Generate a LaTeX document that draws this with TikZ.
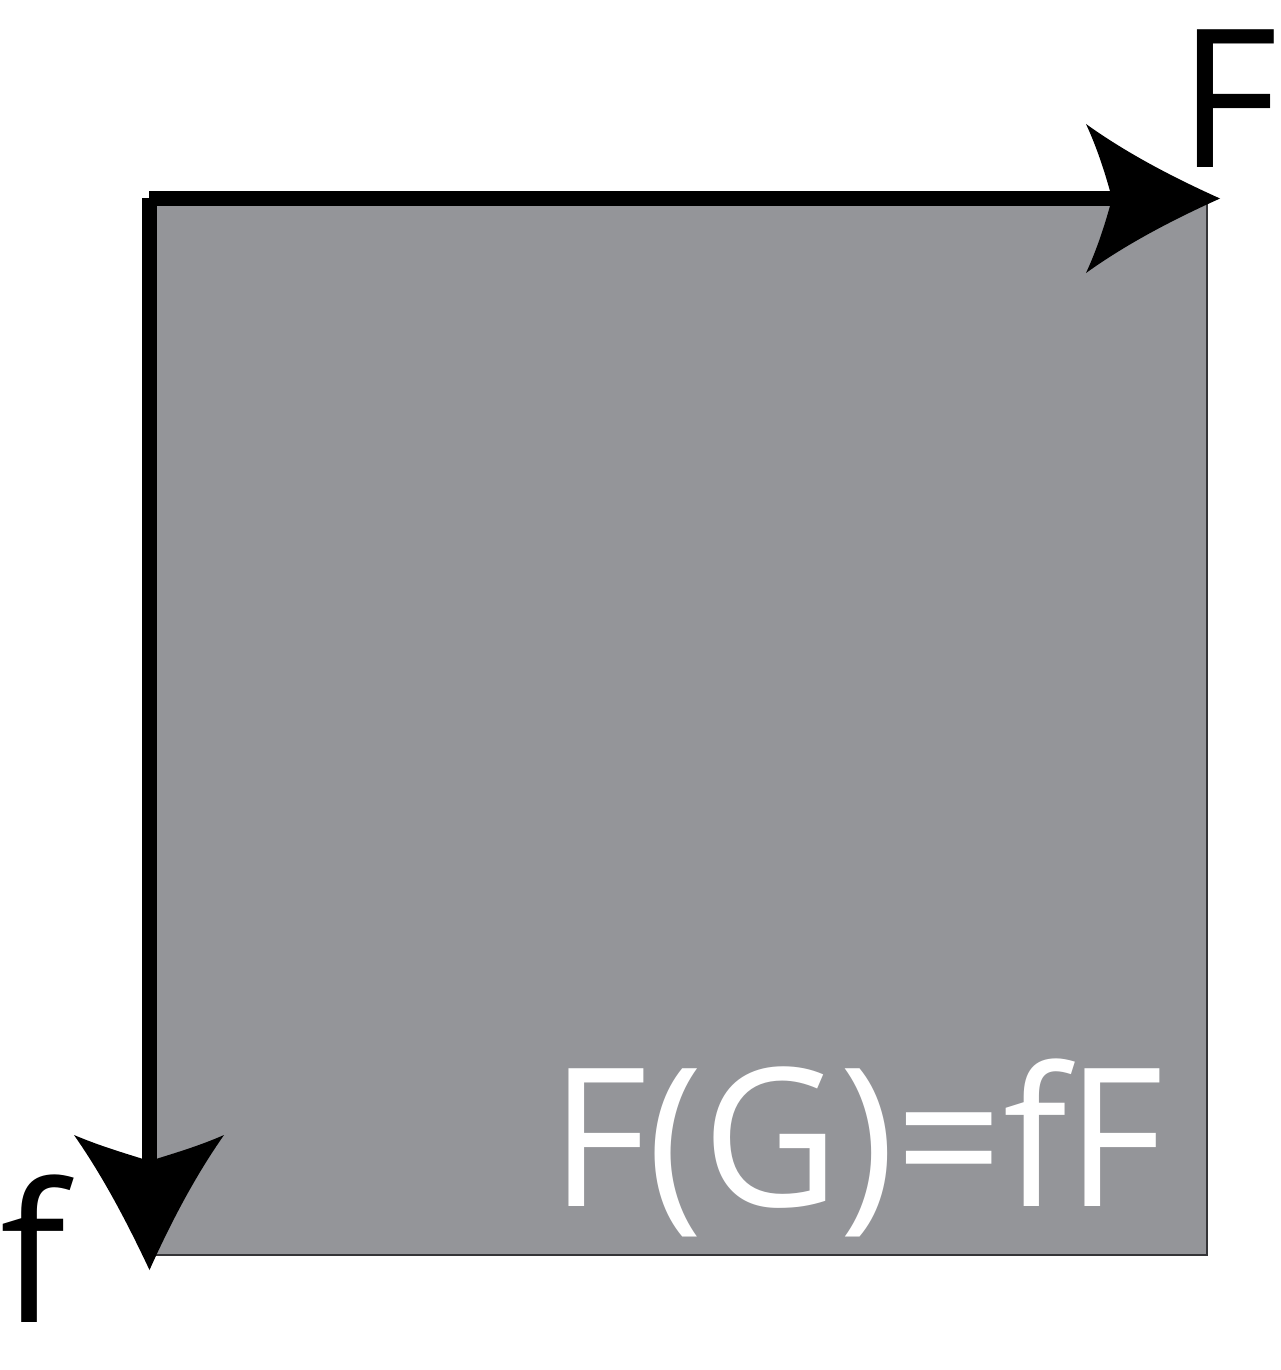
\documentclass[tikz,border=0pt]{standalone}
\usepackage{fontspec}
\setmainfont{Open Sans}
\definecolor{sqgray}{RGB}{148,149,153}
\definecolor{sqedge}{RGB}{52,52,55}
\begin{document}
\begin{tikzpicture}[x=1pt,y=-1pt,
  lab/.style={inner sep=0pt,outer sep=0pt,font=\fontsize{193}{193}\selectfont},
  axisline/.style={line width=15pt,line cap=butt,black},
  headfill/.style={fill=black,draw=none}]
\useasboundingbox (0,0) rectangle (1280,1370);
% square
\coordinate (TL) at (149,198);
\coordinate (TR) at (1207,198);
\coordinate (BR) at (1207,1255);
\coordinate (BL) at (149,1255);
\fill[sqgray] (TL) rectangle (BR);
\draw[sqedge,line width=2pt] (TR) -- (BR) -- (BL);
% arrow F (to the right)
\coordinate (Fstart) at (149,198.5);
\coordinate (Fnotch) at (1112,198.5);
\coordinate (Ftip) at (1220,198.5);
\draw[axisline] (Fstart) -- (Fnotch);
\fill[headfill] (Ftip) .. controls (1170,176) and (1125,152) .. (1086,124)
  .. controls (1098,150) and (1106,176) .. (Fnotch)
  .. controls (1106,221) and (1098,247) .. (1086,273)
  .. controls (1125,245) and (1170,221) .. (Ftip) -- cycle;
% arrow f (downward)
\coordinate (fstart) at (149.5,198);
\coordinate (fnotch) at (149.5,1161);
\coordinate (ftip) at (149.5,1270);
\draw[axisline] (fstart) -- (fnotch);
\fill[headfill] (ftip) .. controls (126,1220) and (102,1175) .. (74,1135)
  .. controls (100,1146) and (124,1153) .. (fnotch)
  .. controls (175,1153) and (199,1146) .. (224,1135)
  .. controls (196,1175) and (172,1220) .. (ftip) -- cycle;
% labels
\node[lab,anchor=base west] (Flab) at (1178,167) {F};
\node[lab,anchor=base west] (flab) at (0,1322) {f};
\node[lab,anchor=base west,text=white] (eq) at (550,1206) {\scalebox{0.975}[1]{F(G)=fF}};
\end{tikzpicture}
\end{document}
